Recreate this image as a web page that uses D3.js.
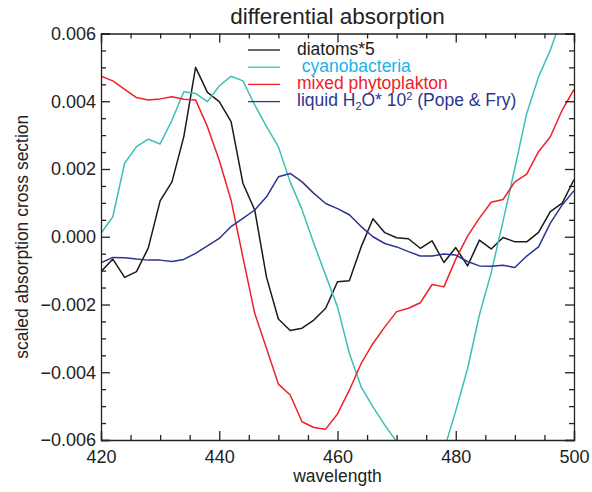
<!DOCTYPE html>
<html>
<head>
<meta charset="utf-8">
<script src="https://cdn.jsdelivr.net/npm/d3@7"></script>
<style>
  body { margin: 0; background: #fff; }
  svg { font-family: "Liberation Sans", Arial, sans-serif; }
  .tick text { font-size: 18px; fill: #222; }
  .domain, .tick line { stroke: #222; }
</style>
</head>
<body>
<div id="chart"></div>
<script>
// wavelength grid (nm), sampled every 2 nm
const wavelengths = d3.range( 420, 501, 2 );

// values in units of 1e-3
const diatoms = [
	-1.03, -0.66, -1.2, -1.03, -0.33, 1.06, 1.62, 2.95, 5.0, 4.26,
	3.99, 3.4, 1.58, 0.79, -1.2, -2.43, -2.77, -2.7, -2.46, -2.11,
	-1.33, -1.3, -0.3, 0.53, 0.12, -0.03, -0.06, -0.34, -0.12, -0.76,
	-0.32, -0.86, -0.1, -0.36, -0.02, -0.15, -0.15, 0.13, 0.74, 0.99,
	1.69,
];
const cyanobacteria = [
	0.1, 0.59, 2.17, 2.66, 2.88, 2.74, 3.44, 4.28, 4.23, 3.99,
	4.45, 4.74, 4.6, 3.89, 3.25, 2.66, 1.62, 0.8, -0.2, -1.14,
	-2.07, -3.44, -4.43, -5.02, -5.56, -6.05, -6.7, -7.1, -6.9, -6.3,
	-5.14, -3.89, -2.31, -1.06, 0.46, 2.03, 3.64, 4.72, 5.51, 6.5,
	7.2,
];
const mixed = [
	4.74, 4.6, 4.35, 4.11, 4.04, 4.07, 4.13, 4.06, 4.04, 3.25,
	2.26, 1.08, -0.6, -2.26, -3.3, -4.35, -4.67, -5.46, -5.63, -5.68,
	-5.23, -4.53, -3.74, -3.15, -2.66, -2.21, -2.11, -1.95, -1.41, -1.48,
	-0.66, 0.02, 0.55, 1.02, 1.1, 1.62, 1.85, 2.51, 2.95, 3.74,
	4.35,
];
const water = [
	-0.77, -0.61, -0.62, -0.66, -0.69, -0.69, -0.73, -0.67, -0.49, -0.27,
	-0.05, 0.3, 0.54, 0.79, 1.18, 1.77, 1.87, 1.62, 1.28, 0.98,
	0.83, 0.65, 0.3, 0.0, -0.2, -0.3, -0.44, -0.57, -0.57, -0.51,
	-0.54, -0.73, -0.86, -0.87, -0.84, -0.91, -0.57, -0.3, 0.4, 0.94,
	1.36,
];

const xTicks = [ 420, 440, 460, 480, 500 ];
const yTicks = [ -0.006, -0.004, -0.002, 0, 0.002, 0.004, 0.006 ];

const seriesList = [
	{ name: 'diatoms*5', values: diatoms, color: '#1a1a1a', text: '#1a1a1a' },
	{ name: ' cyanobacteria', values: cyanobacteria, color: '#3cbfb6', text: '#1cb2ea' },
	{ name: 'mixed phytoplakton', values: mixed, color: '#ee2129', text: '#ee2129' },
	{ name: 'water', values: water, color: '#2b3590', text: '#2b3590' },
];

const width = 592;
const height = 492;
const margin = { top: 33.5, right: 18, bottom: 52, left: 101 };

const svg = d3.select( '#chart' )
	.append( 'svg' )
	.attr( 'width', width )
	.attr( 'height', height );

const x = d3.scaleLinear()
	.domain( [ 420, 500 ] )
	.range( [ margin.left, width - margin.right ] );

const y = d3.scaleLinear()
	.domain( [ -0.006, 0.006 ] )
	.range( [ height - margin.bottom, margin.top ] );

const xMinor = d3.range( 420, 501, 5 ).filter( ( d ) => d % 20 !== 0 );
const yMinor = d3.range( -6, 6.1, 0.5 ).map( ( d ) => d / 1000 )
	.filter( ( d ) => Math.abs( Math.round( d * 1e4 ) ) % 20 !== 0 );

const plotLeft = x.range()[ 0 ];
const plotRight = x.range()[ 1 ];
const plotTop = y.range()[ 1 ];
const plotBottom = y.range()[ 0 ];

// clip lines to the plot area
svg.append( 'clipPath' )
	.attr( 'id', 'plot' )
	.append( 'rect' )
	.attr( 'x', plotLeft )
	.attr( 'y', plotTop )
	.attr( 'width', plotRight - plotLeft )
	.attr( 'height', plotBottom - plotTop );

const line = d3.line()
	.x( ( d, i ) => x( wavelengths[ i ] ) )
	.y( ( d ) => y( d / 1000 ) );

seriesList.forEach( ( s ) => {
	svg.append( 'path' )
		.datum( s.values )
		.attr( 'clip-path', 'url(#plot)' )
		.attr( 'fill', 'none' )
		.attr( 'stroke', s.color )
		.attr( 'stroke-width', 1.5 )
		.attr( 'stroke-linejoin', 'round' )
		.attr( 'd', line );
} );

// axes: ticks inward on all four sides
svg.append( 'g' )
	.attr( 'transform', `translate(0,${ plotBottom })` )
	.call( d3.axisBottom( x ).tickValues( xTicks ).tickSize( -9 ).tickPadding( 10 ).tickFormat( d3.format( 'd' ) ) );
svg.append( 'g' )
	.attr( 'transform', `translate(0,${ plotBottom })` )
	.call( d3.axisBottom( x ).tickValues( xMinor ).tickSize( -5 ).tickFormat( '' ) )
	.select( '.domain' ).remove();
svg.append( 'g' )
	.attr( 'transform', `translate(0,${ plotTop })` )
	.call( d3.axisTop( x ).tickValues( xTicks ).tickSize( -9 ).tickFormat( '' ) );
svg.append( 'g' )
	.attr( 'transform', `translate(0,${ plotTop })` )
	.call( d3.axisTop( x ).tickValues( xMinor ).tickSize( -5 ).tickFormat( '' ) )
	.select( '.domain' ).remove();

svg.append( 'g' )
	.attr( 'transform', `translate(${ plotLeft },0)` )
	.call( d3.axisLeft( y ).tickValues( yTicks ).tickSize( -9 ).tickPadding( 5 ).tickFormat( d3.format( '.3f' ) ) );
svg.append( 'g' )
	.attr( 'transform', `translate(${ plotLeft },0)` )
	.call( d3.axisLeft( y ).tickValues( yMinor ).tickSize( -5 ).tickFormat( '' ) )
	.select( '.domain' ).remove();
svg.append( 'g' )
	.attr( 'transform', `translate(${ plotRight },0)` )
	.call( d3.axisRight( y ).tickValues( yTicks ).tickSize( -9 ).tickFormat( '' ) );
svg.append( 'g' )
	.attr( 'transform', `translate(${ plotRight },0)` )
	.call( d3.axisRight( y ).tickValues( yMinor ).tickSize( -5 ).tickFormat( '' ) )
	.select( '.domain' ).remove();

svg.selectAll( '.domain, .tick line' ).attr( 'stroke-width', 1.3 );
svg.selectAll( '.tick text' ).attr( 'fill', '#222' );

// title and axis labels
svg.append( 'text' )
	.attr( 'x', ( plotLeft + plotRight ) / 2 )
	.attr( 'y', 23.5 )
	.attr( 'text-anchor', 'middle' )
	.style( 'font-size', '22.5px' )
	.style( 'fill', '#222' )
	.text( 'differential absorption' );

svg.append( 'text' )
	.attr( 'x', ( plotLeft + plotRight ) / 2 )
	.attr( 'y', 482 )
	.attr( 'text-anchor', 'middle' )
	.style( 'font-size', '17.5px' )
	.style( 'fill', '#222' )
	.text( 'wavelength' );

svg.append( 'text' )
	.attr( 'transform', `translate(27.5,${ ( plotTop + plotBottom ) / 2 }) rotate(-90)` )
	.attr( 'text-anchor', 'middle' )
	.style( 'font-size', '17.5px' )
	.style( 'fill', '#222' )
	.text( 'scaled absorption cross section' );

// legend
const legend = svg.append( 'g' );
seriesList.forEach( ( s, i ) => {
	const ly = 50 + i * 17.2;
	legend.append( 'line' )
		.attr( 'x1', 248 )
		.attr( 'x2', 280 )
		.attr( 'y1', ly )
		.attr( 'y2', ly )
		.attr( 'stroke', s.color )
		.attr( 'stroke-width', 1.3 );

	const label = legend.append( 'text' )
		.attr( 'x', 297 )
		.attr( 'y', ly + 4.5 )
		.style( 'font-size', '17.5px' )
		.style( 'fill', s.text )
		.attr( 'xml:space', 'preserve' );

	if ( s.name === 'water' ) {
		label.append( 'tspan' ).text( 'liquid H' );
		label.append( 'tspan' ).attr( 'dy', 4 ).style( 'font-size', '11px' ).text( '2' );
		label.append( 'tspan' ).attr( 'dy', -4 ).text( 'O* 10' );
		label.append( 'tspan' ).attr( 'dy', -6 ).style( 'font-size', '11px' ).text( '2' );
		label.append( 'tspan' ).attr( 'dy', 6 ).text( ' (Pope & Fry)' );
	} else {
		label.text( s.name );
	}
} );
</script>
</body>
</html>
